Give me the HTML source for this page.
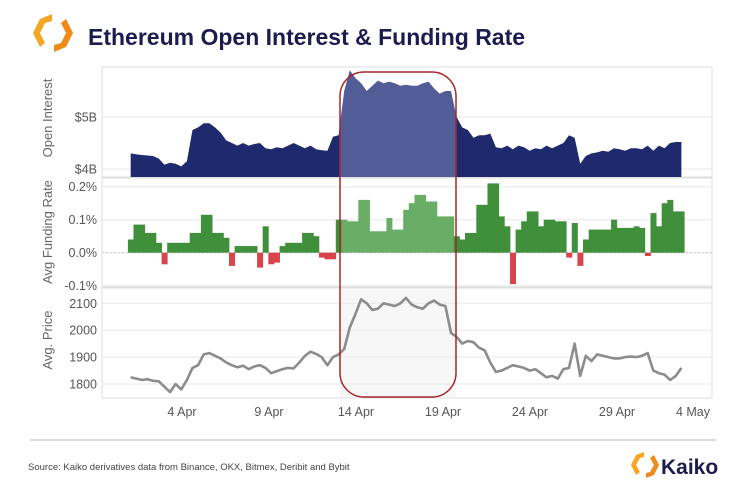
<!DOCTYPE html>
<html><head><meta charset="utf-8"><style>
body{margin:0;background:#fff;width:736px;height:484px;overflow:hidden;font-family:"Liberation Sans",sans-serif}
</style></head><body>
<svg id="chart" width="736" height="484" viewBox="0 0 736 484" xmlns="http://www.w3.org/2000/svg">
<g>
<path d="M52,14 L40,19 L33,33 L40,47 L45,43 L40,33 L45,23 L52,21 Z" fill="#f5a623"/>
<path d="M54,52 L66,47 L73,33 L66,19 L61,23 L66,33 L61,43 L54,45 Z" fill="#f08a1c"/>
</g>
<text x="88" y="45" font-size="23" font-weight="bold" fill="#1c1c4e">Ethereum Open Interest &amp; Funding Rate</text>
<g id="plots"></g>
<line x1="30" y1="440" x2="716" y2="440" stroke="#bbb" stroke-width="1"/>
<text x="28" y="470" font-size="9.5" fill="#444">Source: Kaiko derivatives data from Binance, OKX, Bitmex, Deribit and Bybit</text>
<g>
<path d="M644,452 L636,455 L631,465 L636,475 L640,472 L636,465 L640,458 L644,457 Z" fill="#f5a623"/>
<path d="M646,478 L654,475 L659,465 L654,455 L650,458 L654,465 L650,472 L646,473 Z" fill="#f08a1c"/>
<text x="661" y="474" font-size="21" font-weight="bold" fill="#1c1c4e">Kaiko</text>
</g>
</svg>
<script>
const oiValues=[4.3,4.28,4.27,4.26,4.25,4.2,4.08,4.12,4.1,4.05,4.15,4.75,4.8,4.88,4.88,4.8,4.7,4.55,4.5,4.45,4.5,4.45,4.48,4.5,4.4,4.38,4.42,4.4,4.45,4.5,4.45,4.4,4.45,4.38,4.36,4.35,4.62,4.65,5.5,5.9,5.75,5.65,5.5,5.6,5.7,5.65,5.68,5.65,5.6,5.62,5.6,5.6,5.65,5.68,5.55,5.45,5.5,5.5,5.0,4.8,4.75,4.6,4.65,4.65,4.68,4.42,4.4,4.45,4.38,4.45,4.42,4.35,4.4,4.38,4.45,4.4,4.45,4.5,4.65,4.6,4.1,4.25,4.3,4.32,4.35,4.33,4.4,4.38,4.35,4.4,4.4,4.38,4.45,4.35,4.45,4.4,4.5,4.52,4.52];
const fundingValues=[0.04,0.085,0.085,0.06,0.06,0.03,-0.035,0.03,0.03,0.03,0.03,0.06,0.06,0.115,0.115,0.06,0.06,0.045,-0.04,0.02,0.02,0.02,0.02,-0.045,0.08,-0.035,-0.03,0.02,0.03,0.03,0.03,0.06,0.06,0.05,-0.015,-0.02,-0.02,0.1,0.1,0.095,0.095,0.16,0.16,0.065,0.065,0.065,0.105,0.07,0.07,0.13,0.15,0.175,0.175,0.155,0.155,0.11,0.11,0.11,0.05,0.04,0.06,0.06,0.145,0.145,0.21,0.21,0.11,0.08,-0.095,0.07,0.095,0.125,0.125,0.08,0.1,0.1,0.095,0.095,-0.015,0.09,-0.04,0.04,0.07,0.07,0.07,0.07,0.1,0.075,0.075,0.075,0.08,0.075,-0.01,0.12,0.08,0.15,0.16,0.125,0.125];
const priceValues=[1825,1820,1815,1818,1812,1810,1790,1770,1800,1780,1815,1860,1870,1910,1915,1905,1895,1880,1870,1862,1868,1855,1865,1870,1860,1840,1848,1855,1860,1858,1880,1905,1920,1912,1900,1870,1900,1910,1930,2010,2060,2115,2100,2075,2080,2100,2095,2090,2100,2120,2095,2085,2080,2100,2110,2095,2090,1990,1975,1950,1960,1955,1935,1925,1880,1845,1850,1860,1870,1865,1860,1850,1855,1840,1825,1830,1820,1855,1860,1950,1830,1905,1885,1910,1905,1900,1895,1895,1900,1902,1900,1905,1915,1850,1840,1835,1815,1830,1860];
const xTickLabels=["4 Apr","9 Apr","14 Apr","19 Apr","24 Apr","29 Apr","4 May"];
const xTickDays=[3,8,13,18,23,28,33];
const oiTicks=[4,5];const oiTickLabels=["$4B","$5B"];
const frTicks=[-0.1,0,0.1,0.2];const frTickLabels=["-0.1%","0.0%","0.1%","0.2%"];
const prTicks=[1800,1900,2000,2100];const prTickLabels=["1800","1900","2000","2100"];
const startDay=0.05, endDay=31.7;

const NS="http://www.w3.org/2000/svg";
const g=document.getElementById('plots');
function el(t,a,p){const e=document.createElementNS(NS,t);for(const k in a)e.setAttribute(k,a[k]);(p||g).appendChild(e);return e;}
const X0=102,X1=712;
const dayX=d=>182+(d-3)*17.4;
const idxX=i=>dayX(startDay+(endDay-startDay)*i/(oiValues.length-1));
const oiY=v=>169-(v-4)*52;
const frY=v=>252.7-v*330;
const prY=v=>384-(v-1800)*0.269;
const HL0=340,HL1=456;
const n=oiValues.length, step=idxX(1)-idxX(0);

[[67,177],[178,287],[288,398]].forEach((p,k)=>{
 const f=el('rect',{x:X0,y:p[0],width:X1-X0,height:p[1]-p[0],fill:'none',stroke:'#ddd'});
 
 
});
const hl=el('rect',{x:HL0,y:289,width:HL1-HL0,height:108,fill:'#f7f7f7'});


function yAxis(ticks,labels,fy,name){
 ticks.forEach((t,i)=>{
  const y=fy(t);
  const l=el('line',{x1:X0,x2:X1,y1:y,y2:y,stroke:'#e8e8e8'});
  
  
  const tx=el('text',{x:97,y:y+4.5,'text-anchor':'end','font-size':12.5,fill:'#555'});tx.textContent=labels[i];
  
  
 });
}
yAxis(oiTicks,oiTickLabels,oiY,'oi');
yAxis(frTicks,frTickLabels,frY,'funding');
yAxis(prTicks,prTickLabels,prY,'price');
const zl=el('line',{x1:X0,x2:X1,y1:frY(0),y2:frY(0),stroke:'#ccc','stroke-dasharray':'2,2'});



let d='M'+idxX(0)+','+177;
oiValues.forEach((v,i)=>{d+=' L'+idxX(i).toFixed(1)+','+oiY(v).toFixed(1);});
d+=' L'+idxX(n-1)+',177 Z';
el('clipPath',{id:'cin'});el('rect',{x:HL0,y:0,width:HL1-HL0,height:484},g.lastChild);
el('clipPath',{id:'cout'});el('path',{d:`M0,0H${HL0}V484H0Z M${HL1},0H736V484H${HL1}Z`},g.lastChild);
const oa=el('path',{d:d,fill:'#1f2a6e','clip-path':'url(#cout)'});


const ob=el('path',{d:d,fill:'#525c97','clip-path':'url(#cin)'});



fundingValues.forEach((v,i)=>{
 const x=idxX(i)-step/2, y0=frY(0), y1=frY(v);
 const mid=idxX(i), inHL=mid>=HL0&&mid<=HL1;
 const c=v>=0?(inHL?'#6aad66':'#3f8f3b'):'#d9434a';
 const r=el('rect',{x:x.toFixed(1),y:Math.min(y0,y1).toFixed(1),width:(step+0.4).toFixed(1),height:Math.abs(y1-y0).toFixed(1),fill:c});
 
 
});

let pd='';priceValues.forEach((v,i)=>{pd+=(i?' L':'M')+idxX(i).toFixed(1)+','+prY(v).toFixed(1);});
const pl=el('path',{d:pd,fill:'none',stroke:'#8c8c8c','stroke-width':2.6,'stroke-linejoin':'round'});



xTickDays.forEach((dd,i)=>{
 let x=dayX(dd); if(x>700)x=693;
 const t=el('text',{x:x,y:416,'text-anchor':'middle','font-size':12.5,fill:'#555'});t.textContent=xTickLabels[i];
 
 
});
[['Open Interest',118,'oi-axis-title'],['Avg Funding Rate',232,'funding-axis-title'],['Avg. Price',340,'price-axis-title']].forEach(a=>{
 const t=el('text',{x:0,y:0,transform:`translate(52,${a[1]}) rotate(-90)`,'text-anchor':'middle','font-size':13,fill:'#666'});t.textContent=a[0];
 
 
});
const hb=el('rect',{x:HL0,y:72,width:HL1-HL0,height:325,rx:24,ry:24,fill:'none',stroke:'#a8262c','stroke-width':1.5});


</script>
</body></html>
